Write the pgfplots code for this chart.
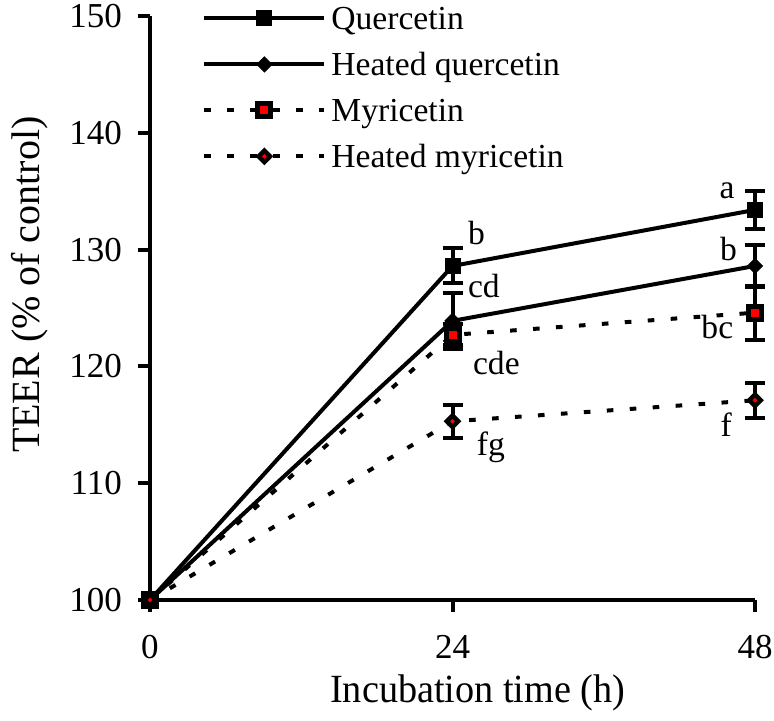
\documentclass[border=0pt]{standalone}
\usepackage{fontspec}
\setmainfont{Liberation Serif}
\newfontfamily\condfont{Liberation Serif}[FakeStretch=0.955]
\usepackage{pgfplots}
\pgfplotsset{compat=1.18}
\begin{document}
\begin{tikzpicture}
\path[use as bounding box] (-75pt,-60pt) rectangle (312pt,300pt);
\begin{axis}[
  scale only axis, width=302.5pt, height=292pt,
  xmin=0, xmax=48, ymin=100, ymax=150,
  clip=false,
  axis x line=bottom, axis y line=left,
  axis line style={-, line width=2pt},
  xtick={0,24,48}, ytick={100,110,...,150},
  tick align=outside, major tick length=6pt,
  tick style={line width=2pt, black},
  /pgf/number format/assume math mode=true,
  ticklabel style={font=\fontsize{17.5}{20}\selectfont},
  xticklabel style={yshift=-8pt},
  yticklabel style={xshift=-4.5pt},
  xlabel={Incubation time (h)}, ylabel={TEER (\% of control)},
  xlabel style={font=\condfont\fontsize{20}{24}\selectfont, at={(axis cs:26,100)}, anchor=base, yshift=-51pt},
  ylabel style={font=\fontsize{20}{24}\selectfont, at={([xshift=-60pt]axis description cs:0,0.54)}, anchor=center},
  legend style={draw=none, fill=none, at={(axis description cs:0,1)}, anchor=north west,
    xshift=26pt, yshift=7.5pt, inner sep=0pt, row sep=6pt, column sep=2.5pt,
    cells={anchor=west}, nodes={inner sep=0pt, text height=14pt, text depth=3pt},
    font=\fontsize{16.8}{20}\selectfont},
  legend image code/.code={\draw[mark repeat=2,mark phase=2,#1] plot coordinates {(0pt,0pt) (30pt,0pt) (60pt,0pt)};},
]
\addplot[black, line width=2pt, mark=square*, mark size=3.75pt, mark options={solid, fill=black, line width=0.5pt},
  error bars/.cd, y dir=both, y explicit, error bar style={line width=2pt, solid},
  error mark options={rotate=90, mark size=5pt, line width=2pt, solid}]
  coordinates {(0,100) +- (0,0) (24,128.6) +- (0,1.5) (48,133.4) +- (0,1.65)};
\addplot[black, line width=2pt, mark=square*, mark size=2.65pt, mark options={solid, rotate=45, fill=black, line width=0.5pt},
  error bars/.cd, y dir=both, y explicit, error bar style={line width=2pt, solid},
  error mark options={rotate=90, mark size=5pt, line width=2pt, solid}]
  coordinates {(0,100) +- (0,0) (24,123.9) +- (0,2.4) (48,128.6) +- (0,1.8)};
\addplot[black, line width=2pt, dash pattern=on 3.3pt off 8.2pt, mark=square*, mark size=3.25pt, mark options={solid, fill=red, draw=black, line width=2.5pt},
  error bars/.cd, y dir=both, y explicit, error bar style={line width=2pt, solid},
  error mark options={rotate=90, mark size=5pt, line width=2pt, solid}]
  coordinates {(0,100) +- (0,0) (24,122.7) +- (0,0.9) (48,124.6) +- (0,2.3)};
\addplot[black, line width=2pt, dash pattern=on 3.3pt off 8.2pt, mark=square*, mark size=2.05pt, mark options={solid, rotate=45, fill=red, draw=black, line width=2.2pt},
  error bars/.cd, y dir=both, y explicit, error bar style={line width=2pt, solid},
  error mark options={rotate=90, mark size=5pt, line width=2pt, solid}]
  coordinates {(0,100) +- (0,0) (24,115.3) +- (0,1.4) (48,117.1) +- (0,1.5)};
\legend{Quercetin, Heated quercetin, Myricetin, Heated myricetin}
\begin{scope}[font=\fontsize{16.8}{20}\selectfont, inner sep=0pt]
\node[anchor=base west] at (axis cs:25.2,130.4) {b};
\node[anchor=base west] at (axis cs:25.2,125.9) {cd};
\node[anchor=base west] at (axis cs:25.6,119.3) {cde};
\node[anchor=base west] at (axis cs:25.9,112.4) {fg};
\node[anchor=base east] at (axis cs:46.4,134.4) {a};
\node[anchor=base east] at (axis cs:46.6,129.1) {b};
\node[anchor=base east] at (axis cs:46.3,122.4) {bc};
\node[anchor=base east] at (axis cs:46.2,114.0) {f};
\end{scope}
\end{axis}
\end{tikzpicture}
\end{document}
